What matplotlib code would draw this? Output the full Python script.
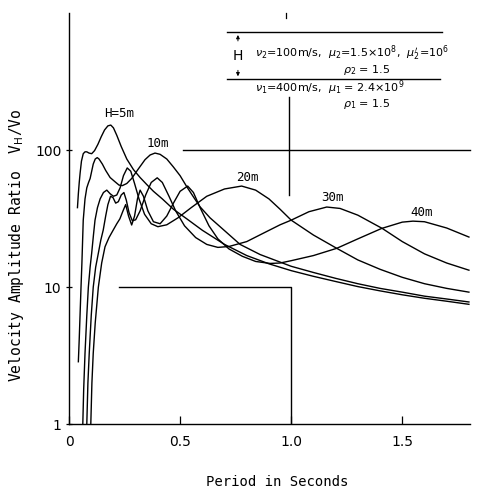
import matplotlib
matplotlib.use("Agg")
import matplotlib.pyplot as plt

# Period (s) and velocity amplitude ratio, one pair per layer thickness
h5_t = [0.038, 0.042, 0.046, 0.050, 0.056, 0.064, 0.072, 0.080, 0.090, 0.102, 0.115, 0.130,
        0.145, 0.160, 0.175, 0.188, 0.200, 0.215, 0.235, 0.26, 0.29, 0.32, 0.35, 0.38, 0.42,
        0.47, 0.53, 0.60, 0.70, 0.80, 0.90, 1.0, 1.1, 1.2, 1.3, 1.4, 1.5, 1.6, 1.7, 1.8]
h5_v = [38, 48, 58, 68, 83, 94, 97, 97, 95, 94, 99, 110,
        125, 140, 150, 152, 145, 128, 106, 86, 72, 63, 56, 50, 44,
        37, 31.5, 26, 20.5, 17, 14.8, 13.2, 12.0, 11.0, 10.1, 9.4, 8.8, 8.3, 7.9, 7.5]

h10_t = [0.042, 0.046, 0.050, 0.054, 0.058, 0.064, 0.072, 0.080, 0.088, 0.095, 0.102, 0.109,
         0.118, 0.127, 0.135, 0.150, 0.165, 0.185, 0.207, 0.225, 0.240, 0.26, 0.282, 0.31,
         0.342, 0.365, 0.387, 0.41, 0.44, 0.469, 0.50, 0.53, 0.56, 0.59, 0.635, 0.68, 0.77,
         0.86, 1.0, 1.1, 1.2, 1.3, 1.4, 1.5, 1.6, 1.7, 1.8]
h10_v = [2.86, 4.2, 6.5, 10, 15, 30.8, 44, 53, 58, 62, 70, 79,
         86, 88, 86, 79, 71, 63, 58.7, 55.5, 55, 57, 62, 72,
         85, 92, 95, 93, 86, 75.5, 65, 54, 45.5, 38.5, 32, 27.6, 20.5,
         17.3, 14.2, 12.8, 11.6, 10.6, 9.8, 9.2, 8.6, 8.2, 7.8]

h20_t = [0.062, 0.066, 0.072, 0.080, 0.087, 0.095, 0.102, 0.110, 0.117, 0.128, 0.140, 0.155,
         0.170, 0.185, 0.200, 0.215, 0.230, 0.245, 0.262, 0.278, 0.295, 0.315, 0.34, 0.37,
         0.40, 0.44, 0.49, 0.55, 0.62, 0.70, 0.777, 0.84, 0.90, 0.95, 1.0, 1.1, 1.205, 1.3,
         1.4, 1.5, 1.6, 1.7, 1.8]
h20_v = [1, 1.8, 3.3, 6.2, 10, 14, 17.7, 24, 30.8, 38, 44, 49,
         51, 48, 46, 47, 53, 65, 74, 70, 57, 44, 34, 29,
         27.6, 28.5, 32, 38, 46, 52, 54.6, 51, 44, 37, 30.8, 24, 19.2, 15.8,
         13.5, 11.8, 10.6, 9.8, 9.2]

h30_t = [0.080, 0.085, 0.091, 0.100, 0.109, 0.120, 0.132, 0.143, 0.154, 0.165, 0.175, 0.187,
         0.198, 0.210, 0.222, 0.235, 0.247, 0.258, 0.270, 0.285, 0.300, 0.32, 0.345, 0.37,
         0.397, 0.42, 0.45, 0.48, 0.52, 0.57, 0.62, 0.67, 0.72, 0.80, 0.88, 0.95, 1.0, 1.08,
         1.16, 1.22, 1.30, 1.41, 1.5, 1.6, 1.7, 1.8]
h30_v = [1, 2, 3.3, 6.2, 10, 14, 17.7, 22, 26.1, 33, 40, 46,
         45, 41, 42, 47, 49, 43, 35, 30.5, 31, 36, 47, 58,
         62.7, 58, 46, 36, 28, 23, 20.5, 19.5, 19.8, 21.5, 25, 28.5, 30.8, 35.5,
         38.4, 37.5, 33.5, 26.8, 21.5, 17.5, 15, 13.3]

h40_t = [0.098, 0.103, 0.109, 0.118, 0.132, 0.147, 0.162, 0.180, 0.199, 0.215, 0.229, 0.243,
         0.255, 0.268, 0.282, 0.295, 0.308, 0.320, 0.335, 0.355, 0.38, 0.41, 0.44, 0.47,
         0.50, 0.534, 0.56, 0.59, 0.63, 0.67, 0.72, 0.78, 0.84, 0.905, 0.95, 1.0, 1.1, 1.205,
         1.3, 1.407, 1.5, 1.548, 1.6, 1.7, 1.8]
h40_v = [1, 2, 3.3, 5.5, 10, 15, 19.7, 23, 26.1, 29, 31.5, 36,
         40, 33, 28.4, 33, 44, 51, 46, 36, 30, 29, 33, 41,
         50, 54.6, 49, 38, 28, 22.5, 19, 16.8, 15.4, 14.9, 15.0, 15.6, 17, 19.2,
         22.5, 26.8, 29.8, 30.3, 30, 27, 23.2]

curves = [(h5_t, h5_v), (h10_t, h10_v), (h20_t, h20_v), (h30_t, h30_v), (h40_t, h40_v)]
labels = ["H=5m", "10m", "20m", "30m", "40m"]
label_pos = [(0.225, 186), (0.40, 112), (0.805, 63.5), (1.185, 45.4), (1.585, 35.3)]

mono = ["DejaVu Sans Mono"]
narrow = ["Liberation Sans Narrow", "DejaVu Sans"]

fig = plt.figure(figsize=(4.84, 4.94), dpi=100)
ax = fig.add_axes([0.1426, 0.141, 0.829, 0.833])

for t, v in curves:
    ax.plot(t, v, color="black", lw=1.0)

for txt, (x, y) in zip(labels, label_pos):
    ax.text(x, y, txt, ha="center", va="center", fontsize=9, family=mono)

# leftover grid strokes from the original drawing
ax.plot([0.515, 1.806], [100, 100], color="black", lw=1.0, clip_on=False)
ax.plot([0.225, 1.0, 1.0], [10, 10, 1], color="black", lw=1.0)
ax.plot([0.988, 0.988], [47, 243], color="black", lw=1.0)
ax.plot([0.978, 0.978], [910, 1000], color="black", lw=0.9, clip_on=False)

ax.set_yscale("log")
ax.set_xlim(0, 1.806)
ax.set_ylim(1, 1000)
ax.set_xticks([0, 0.5, 1.0, 1.5])
ax.set_xticklabels(["0", "0.5", "1.0", "1.5"], family=narrow, fontsize=10)
ax.set_yticks([1, 10, 100])
ax.set_yticklabels(["1", "10", "100"], family=narrow, fontsize=10)
ax.minorticks_off()
ax.tick_params(axis="x", direction="in", length=6, width=0.9, pad=8)
ax.tick_params(axis="y", direction="inout", length=5, width=0.9, pad=3)
for s in ["top", "right"]:
    ax.spines[s].set_visible(False)
for s in ["left", "bottom"]:
    ax.spines[s].set_linewidth(1.0)

# layer sketch in the upper right
tr = ax.transAxes
ax.plot([0.394, 0.930], [0.953, 0.953], color="black", lw=1.0, transform=tr)
ax.plot([0.394, 0.925], [0.839, 0.839], color="black", lw=1.0, transform=tr)
ax.annotate("", xy=(0.421, 0.953), xytext=(0.421, 0.925), xycoords=tr,
            arrowprops=dict(arrowstyle="-|>", lw=0.7, color="black", mutation_scale=5))
ax.annotate("", xy=(0.421, 0.839), xytext=(0.421, 0.867), xycoords=tr,
            arrowprops=dict(arrowstyle="-|>", lw=0.7, color="black", mutation_scale=5))
ax.text(0.421, 0.896, "H", transform=tr, ha="center", va="center", fontsize=10)
ax.text(0.464, 0.902, r"$\nu_2$=100m/s,  $\mu_2$=1.5×10$^8$,  $\mu_2'$=10$^6$",
        transform=tr, ha="left", va="center", fontsize=8, clip_on=False)
ax.text(0.683, 0.862, r"$\rho_2$ = 1.5", transform=tr, ha="left", va="center", fontsize=8)
ax.text(0.464, 0.818, r"$\nu_1$=400m/s,  $\mu_1$ = 2.4×10$^9$",
        transform=tr, ha="left", va="center", fontsize=8)
ax.text(0.683, 0.778, r"$\rho_1$ = 1.5", transform=tr, ha="left", va="center", fontsize=8)

fig.text(276.7 / 484, 1 - 481.7 / 494, "Period in Seconds", ha="center", va="center",
         fontsize=10, family=mono)
fig.text(17 / 484, 1 - 245 / 494, r"Velocity Amplitude Ratio  V$_\mathrm{H}$/Vo",
         ha="center", va="center", rotation=90, fontsize=10.5, family=mono)

fig.savefig("out.png", dpi=100)
